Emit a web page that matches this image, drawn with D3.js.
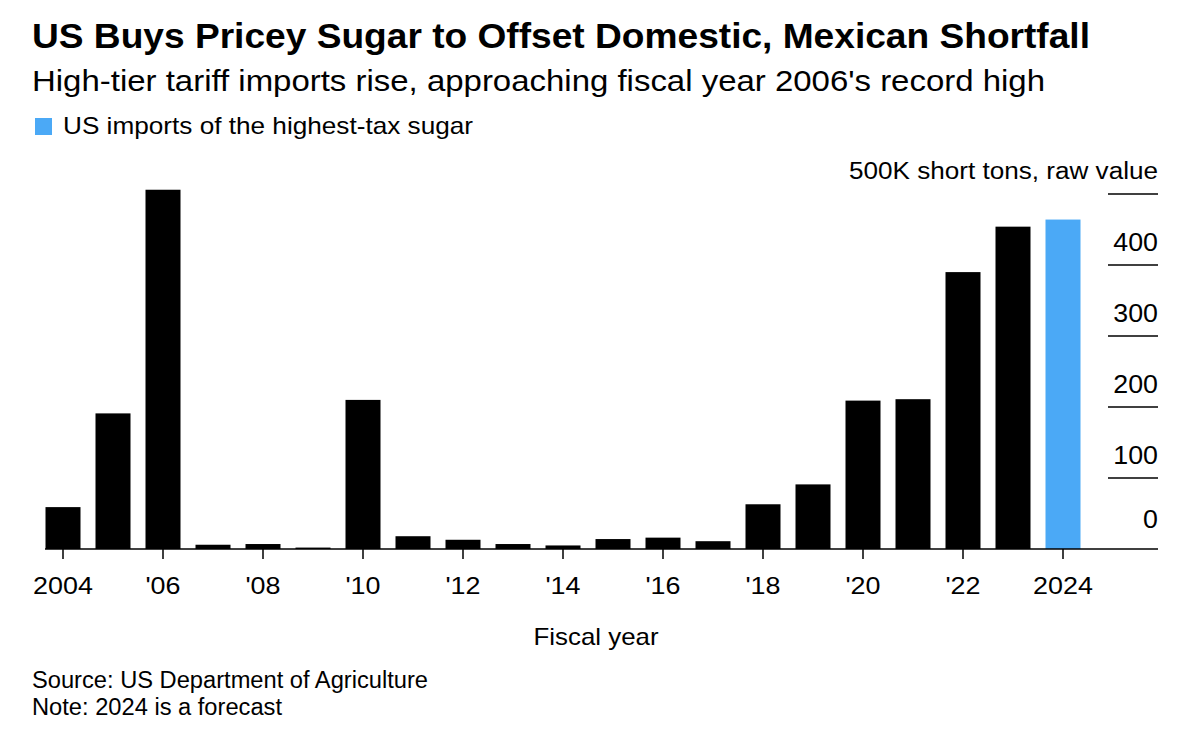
<!DOCTYPE html>
<html>
<head>
<meta charset="utf-8">
<script src="https://cdn.jsdelivr.net/npm/d3@7"></script>
<style>
  html, body { margin: 0; padding: 0; background: #fff; }
  svg { display: block; font-family: "Liberation Sans", Arial, Helvetica, sans-serif; }
</style>
</head>
<body>
<svg id="chart" width="1200" height="734"></svg>
<script>
const years = [2004, 2005, 2006, 2007, 2008, 2009, 2010, 2011, 2012, 2013, 2014,
               2015, 2016, 2017, 2018, 2019, 2020, 2021, 2022, 2023, 2024];
const imports = [59, 191, 506, 6, 7, 2, 210, 18, 13, 7, 5,
                 14, 16, 11, 63, 91, 209, 211, 390, 454, 464];
const forecastYears = [2024];
const yTicks = [0, 100, 200, 300, 400, 500];
const xTickYears = [2004, 2006, 2008, 2010, 2012, 2014, 2016, 2018, 2020, 2022, 2024];

const titleText = "US Buys Pricey Sugar to Offset Domestic, Mexican Shortfall";
const subtitleText = "High-tier tariff imports rise, approaching fiscal year 2006's record high";
const legendText = "US imports of the highest-tax sugar";
const unitText = "500K short tons, raw value";
const xTitle = "Fiscal year";
const sourceText = "Source: US Department of Agriculture";
const noteText = "Note: 2024 is a forecast";

const svg = d3.select("#chart");
const BLUE = "#4ba9f6";

// stretch text horizontally to a target width (the reference font is wider than Arial)
function fitWidth(sel, w) {
  sel.attr("textLength", w).attr("lengthAdjust", "spacingAndGlyphs");
}
function stretch(sel, f) {
  sel.each(function() {
    const n = this.getComputedTextLength();
    d3.select(this).attr("textLength", n * f).attr("lengthAdjust", "spacingAndGlyphs");
  });
}

// Scales
const x = d3.scaleBand().domain(years).range([38, 1088]).paddingInner(0.3).paddingOuter(0.15);
const y = d3.scaleLinear().domain([0, 500]).range([549, 194]);
const axisLeft = 1108, axisRight = 1158;

// Header
svg.append("text").attr("x", 32).attr("y", 48).attr("font-size", 35).attr("font-weight", "bold")
  .attr("fill", "#000").text(titleText).call(fitWidth, 1058);
svg.append("text").attr("x", 32).attr("y", 91).attr("font-size", 30)
  .attr("fill", "#000").text(subtitleText).call(fitWidth, 1013);
svg.append("rect").attr("x", 35).attr("y", 118).attr("width", 17).attr("height", 17).attr("fill", BLUE);
svg.append("text").attr("x", 63).attr("y", 134).attr("font-size", 24)
  .attr("fill", "#000").text(legendText).call(fitWidth, 410);

// Y gridlines (short, right side) and labels
const gy = svg.append("g");
gy.selectAll("line.grid").data(yTicks.filter(d => d > 0)).join("line")
  .attr("class", "grid")
  .attr("x1", axisLeft).attr("x2", axisRight)
  .attr("y1", d => y(d)).attr("y2", d => y(d))
  .attr("stroke", "#000").attr("stroke-width", 1.5);
gy.selectAll("text.tl").data(yTicks.filter(d => d < 500)).join("text")
  .attr("class", "tl")
  .attr("x", axisRight).attr("y", d => d === 0 ? y(d) - 21 : y(d) - 14)
  .attr("text-anchor", "end").attr("font-size", 25.5).attr("fill", "#000")
  .text(d => d)
  .call(stretch, 1.05);
svg.append("text").attr("x", axisRight).attr("y", y(500) - 15)
  .attr("text-anchor", "end").attr("font-size", 23).attr("fill", "#000")
  .text(unitText).call(fitWidth, 309);

// Bars
svg.append("g").selectAll("rect").data(years).join("rect")
  .attr("x", d => x(d))
  .attr("width", x.bandwidth())
  .attr("y", (d, i) => y(imports[i]))
  .attr("height", (d, i) => y(0) - y(imports[i]))
  .attr("fill", d => forecastYears.includes(d) ? BLUE : "#000");

// Baseline
svg.append("line").attr("x1", 45).attr("x2", axisRight)
  .attr("y1", y(0)).attr("y2", y(0)).attr("stroke", "#000").attr("stroke-width", 1.5);

// X axis ticks and labels
const gx = svg.append("g");
gx.selectAll("line").data(xTickYears).join("line")
  .attr("x1", d => x(d) + x.bandwidth() / 2).attr("x2", d => x(d) + x.bandwidth() / 2)
  .attr("y1", y(0)).attr("y2", y(0) + 10)
  .attr("stroke", "#000").attr("stroke-width", 1.5);
gx.selectAll("text").data(xTickYears).join("text")
  .attr("x", d => x(d) + x.bandwidth() / 2).attr("y", 594)
  .attr("text-anchor", "middle").attr("font-size", 24).attr("fill", "#000")
  .text(d => (d === 2004 || d === 2024) ? String(d) : "'" + String(d).slice(2))
  .call(stretch, 1.12);

svg.append("text").attr("x", 596).attr("y", 645).attr("text-anchor", "middle")
  .attr("font-size", 24).attr("fill", "#000").text(xTitle).call(fitWidth, 125);

// Footer
svg.append("text").attr("x", 32).attr("y", 688).attr("font-size", 23).attr("fill", "#000")
  .text(sourceText).call(fitWidth, 396);
svg.append("text").attr("x", 32).attr("y", 715).attr("font-size", 23).attr("fill", "#000")
  .text(noteText).call(fitWidth, 250);
</script>
</body>
</html>
